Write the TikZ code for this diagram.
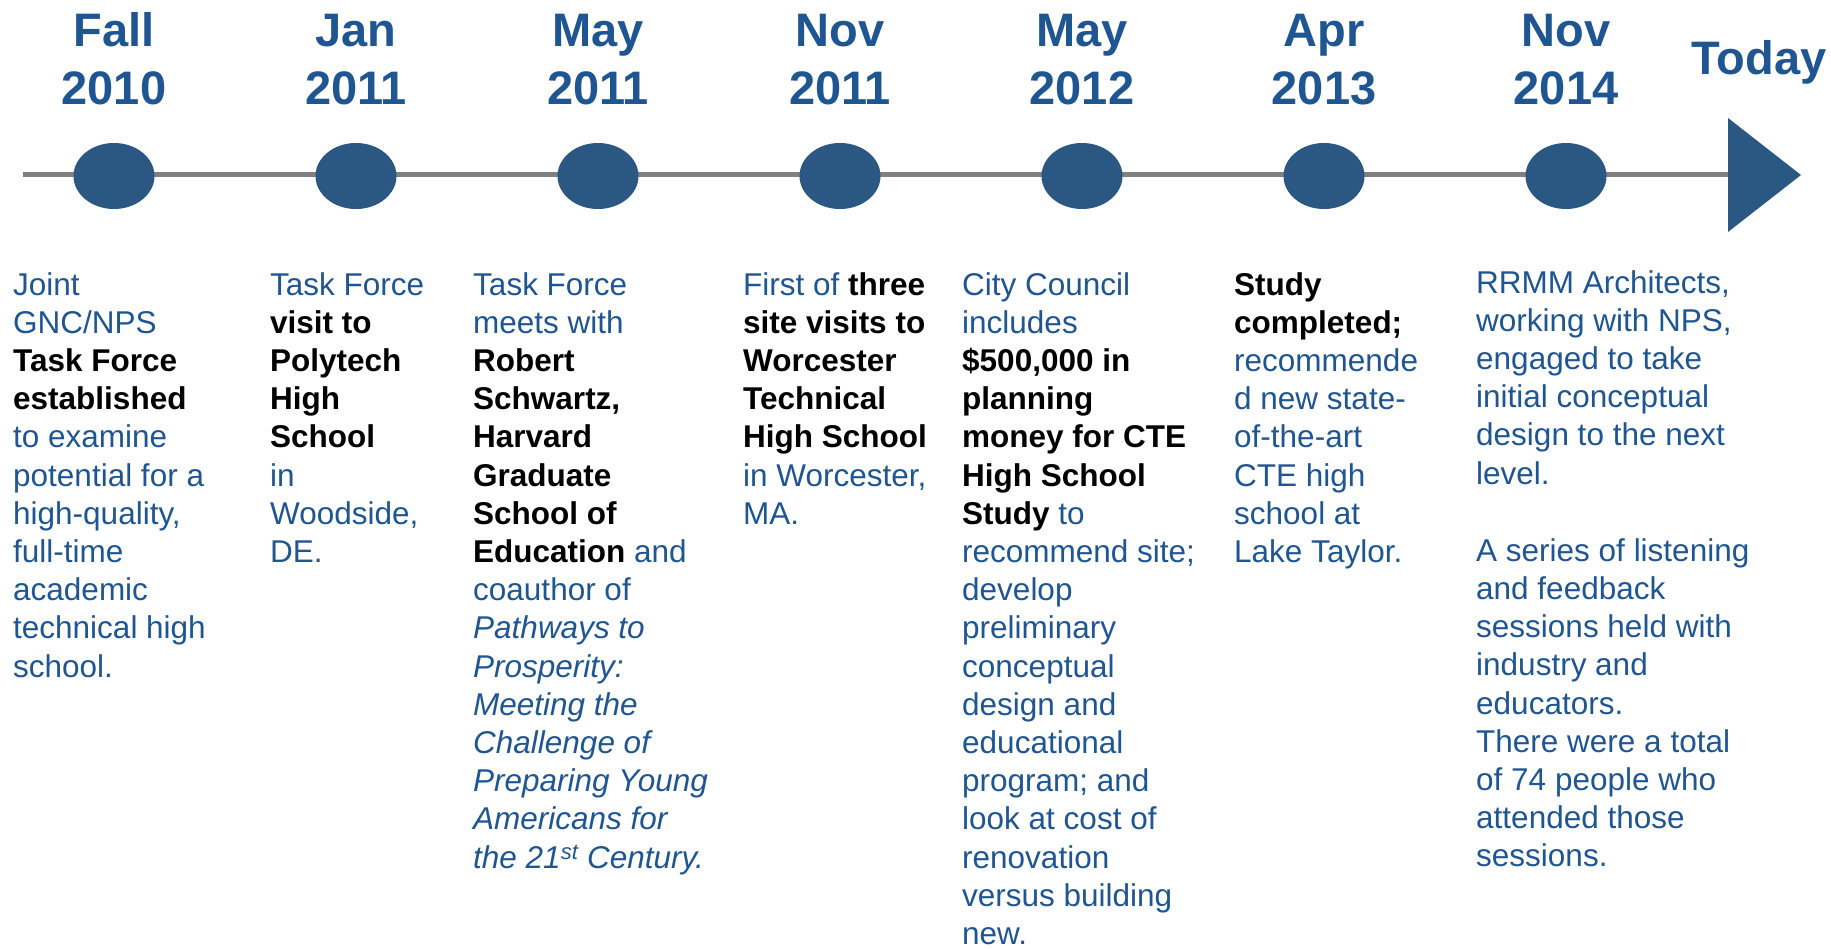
\documentclass[tikz,border=0pt]{standalone}
\usepackage{fontspec}
\setmainfont{Liberation Sans}
\usetikzlibrary{positioning}
\usetikzlibrary{arrows.meta}
\usetikzlibrary{shapes.geometric}

\definecolor{tlblue}{RGB}{31,85,145}
\definecolor{dotblue}{RGB}{42,88,131}
\definecolor{linegray}{RGB}{128,128,128}
\newcommand{\blk}[1]{{\bfseries\color{black}#1}}

\begin{document}
\begin{tikzpicture}[x=1pt,y=-1pt,
    tdot/.style={ellipse,fill=dotblue,minimum width=81pt,minimum height=66pt,inner sep=0pt},
    tdate/.style={align=center,text=tlblue,font=\fontsize{47}{58}\selectfont\bfseries,inner sep=0pt},
    tevent/.style={align=left,anchor=north west,text=tlblue,font=\fontsize{31.5}{38.2}\selectfont,inner sep=0pt}]
  \useasboundingbox (0,0) rectangle (1831,949);
  % time line with the arrow at its end
  \coordinate (L) at (23,175);
  \coordinate (E) at (1801,175);
  \draw[linegray,line width=5pt,-{Triangle[length=73pt,width=114pt,line width=0pt,color=dotblue]}] (L) -- (E);
  \node[tdot] (d1) at (114,176) {};
  \node[tdot] (d2) at (356,176) {};
  \node[tdot] (d3) at (598,176) {};
  \node[tdot] (d4) at (840,176) {};
  \node[tdot] (d5) at (1082,176) {};
  \node[tdot] (d6) at (1324,176) {};
  \node[tdot] (d7) at (1566,176) {};
  % dates
  \node[tdate,above=38pt of d1] (m1) {Fall\\2010};
  \node[tdate,above=38pt of d2] (m2) {Jan\\2011};
  \node[tdate,above=38pt of d3] (m3) {May\\2011};
  \node[tdate,above=38pt of d4] (m4) {Nov\\2011};
  \node[tdate,above=38pt of d5] (m5) {May\\2012};
  \node[tdate,above=38pt of d6] (m6) {Apr\\2013};
  \node[tdate,above=38pt of d7] (m7) {Nov\\2014};
  \node[tdate,anchor=base] (today) at (1759,75) {Today};
  % what happened
  \node[tevent] (e1) at (13,272) {Joint\\GNC/NPS\\\blk{Task Force}\\\blk{established}\\to examine\\potential for a\\high-quality,\\full-time\\academic\\technical high\\school.};
  \node[tevent] (e2) at (270,272) {Task Force\\\blk{visit to}\\\blk{Polytech}\\\blk{High}\\\blk{School}\\in\\Woodside,\\DE.};
  \node[tevent] (e3) at (473,272) {Task Force\\meets with\\\blk{Robert}\\\blk{Schwartz,}\\\blk{Harvard}\\\blk{Graduate}\\\blk{School of}\\\blk{Education} and\\coauthor of\\\textit{Pathways to}\\\textit{Prosperity:}\\\textit{Meeting the}\\\textit{Challenge of}\\\textit{Preparing Young}\\\textit{Americans for}\\\textit{the 21\textsuperscript{st} Century.}};
  \node[tevent] (e4) at (743,272) {First of \blk{three}\\\blk{site visits to}\\\blk{Worcester}\\\blk{Technical}\\\blk{High School}\\in Worcester,\\MA.};
  \node[tevent] (e5) at (962,272) {City Council\\includes\\\blk{\$500,000 in}\\\blk{planning}\\\blk{money for CTE}\\\blk{High School}\\\blk{Study} to\\recommend site;\\develop\\preliminary\\conceptual\\design and\\educational\\program; and\\look at cost of\\renovation\\versus building\\new.};
  \node[tevent] (e6) at (1234,272) {\blk{Study}\\\blk{completed;}\\recommende\\d new state-\\of-the-art\\CTE high\\school at\\Lake Taylor.};
  \node[tevent] (e7) at (1476,270) {RRMM Architects,\\working with NPS,\\engaged to take\\initial conceptual\\design to the next\\level.\\[39pt]A series of listening\\and feedback\\sessions held with\\industry and\\educators.\\There were a total\\of 74 people who\\attended those\\sessions.};
\end{tikzpicture}
\end{document}
